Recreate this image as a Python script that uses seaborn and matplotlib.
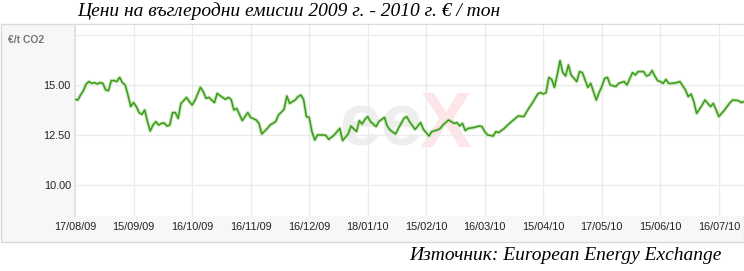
import numpy as np
import pandas as pd
import matplotlib
matplotlib.use("Agg")
import matplotlib.pyplot as plt
from matplotlib.patches import Rectangle
import seaborn as sns

# ---- data (trading-day index, price EUR/t CO2) ----
day_idx = [0, 1, 2, 3, 4, 5, 6, 7, 8, 9, 10, 11, 12, 13, 14, 15, 16, 17, 18, 19,
           20, 21, 22, 23, 24, 25, 26, 27, 28, 29, 30, 31, 32, 33, 34, 35, 36, 37, 38, 39,
           40, 41, 42, 43, 45, 46, 47, 48, 50, 51, 52, 54, 55, 56, 57, 58, 60, 62, 63, 65,
           66, 67, 69, 70, 72, 73, 75, 76, 77, 79, 80, 81, 82, 83, 84, 85, 86, 87, 89, 90,
           91, 93, 95, 96, 98, 99, 101, 102, 103, 104, 105, 106, 108, 109, 111, 112, 113, 115, 116, 118,
           119, 120, 122, 124, 125, 127, 128, 130, 131, 132, 134, 136, 137, 138, 139, 140, 141, 143, 145, 146,
           147, 148, 150, 151, 152, 154, 156, 158, 159, 161, 163, 164, 166, 167, 168, 169, 170, 171, 172, 173,
           174, 175, 176, 177, 178, 180, 181, 182, 184, 185, 187, 188, 189, 190, 191, 192, 194, 195, 197, 198,
           200, 201, 202, 204, 205, 206, 207, 208, 209, 210, 211, 212, 213, 214, 216, 217, 219, 220, 221, 222,
           223, 225, 226, 227, 228, 229, 231, 233, 235, 236, 238, 239, 240]
price = [14.28, 14.25, 14.50, 14.72, 15.05, 15.17, 15.08, 15.12, 15.05, 15.12, 15.08, 14.75, 14.72, 15.22, 15.22, 15.17, 15.38, 15.12, 15.00, 14.50,
         13.92, 14.12, 13.92, 13.62, 13.53, 13.75, 13.17, 12.70, 13.00, 13.17, 13.00, 13.08, 13.10, 12.95, 13.00, 13.62, 13.62, 13.33, 14.08, 14.22,
         14.38, 14.17, 14.00, 14.22, 14.88, 14.67, 14.33, 14.38, 14.12, 14.58, 14.47, 14.28, 14.38, 14.28, 13.75, 13.83, 13.22, 13.62, 13.38, 13.25,
         13.08, 12.55, 12.83, 13.00, 13.17, 13.50, 13.78, 14.45, 14.08, 14.25, 14.42, 14.50, 14.28, 13.42, 13.38, 12.67, 12.25, 12.50, 12.50, 12.48,
         12.28, 12.50, 12.83, 12.22, 12.55, 12.95, 12.67, 13.22, 13.05, 13.28, 13.42, 13.17, 12.92, 13.17, 13.38, 12.95, 12.75, 12.55, 12.83, 13.33,
         13.42, 13.17, 12.78, 13.12, 12.78, 12.45, 12.67, 12.75, 12.83, 13.00, 13.25, 13.08, 13.12, 12.95, 13.08, 12.72, 12.83, 12.87, 12.95, 12.92,
         12.67, 12.50, 12.45, 12.67, 12.62, 12.83, 13.10, 13.33, 13.45, 13.42, 13.88, 14.08, 14.55, 14.62, 14.55, 14.62, 15.38, 15.28, 14.88, 15.50,
         16.22, 15.62, 15.45, 16.00, 15.50, 15.17, 15.67, 15.62, 14.88, 15.08, 14.25, 14.62, 14.92, 15.33, 15.38, 15.00, 14.92, 15.08, 15.17, 15.00,
         15.62, 15.50, 15.67, 15.67, 15.45, 15.50, 15.72, 15.45, 15.22, 15.17, 15.08, 15.28, 15.08, 15.08, 15.12, 15.17, 14.75, 14.42, 14.55, 14.17,
         13.58, 14.00, 14.25, 14.08, 13.92, 14.08, 13.42, 13.75, 14.12, 14.25, 14.22, 14.12, 14.17]

tick_pos = [0, 21, 42, 63, 84, 105, 126, 147, 168, 189, 210, 231]
tick_labels = ["17/08/09", "15/09/09", "16/10/09", "16/11/09", "16/12/09", "18/01/10",
               "15/02/10", "16/03/10", "15/04/10", "17/05/10", "15/06/10", "16/07/10"]
y_ticks = [10.0, 12.5, 15.0, 17.5]

title = "Цени на въглеродни емисии 2009 г. - 2010 г. € / тон"
source = "Източник: European Energy Exchange"
unit = "€/t CO2"

df = pd.DataFrame({"day": day_idx, "price": price})

sns.set_theme(style="white")
plt.rcParams["font.family"] = ["Liberation Sans", "DejaVu Sans"]

W, H = 744, 271
fig = plt.figure(figsize=(W / 100, H / 100), dpi=100)

# grey chart panel
fig.patches.append(Rectangle((0.5 / W, 1 - 242 / H), (W - 1) / W, (242 - 24) / H,
                             transform=fig.transFigure, facecolor="#f7f7f7",
                             edgecolor="#d9d9d9", linewidth=1.0, zorder=0))

ax = fig.add_axes([75 / W, 1 - 216 / H, (W - 75) / W, (216 - 25) / H])
ax.set_facecolor("white")
ax.set_zorder(1)

# watermark
ax.text(0.52, 0.47, "ee", transform=ax.transAxes, fontsize=54, fontweight="bold",
        color="#eeeeee", ha="right", va="center", zorder=0, family="Liberation Sans")
ax.text(0.515, 0.47, "X", transform=ax.transAxes, fontsize=56, fontweight="bold",
        color="#fce6ea", ha="left", va="center", zorder=0, family="Liberation Sans")

# light companion line (halo) and main line
sns.lineplot(data=df, x="day", y="price", ax=ax, color="#b9e2a6", linewidth=2.6,
             alpha=0.8, zorder=2, legend=False)
sns.lineplot(data=df, x="day", y="price", ax=ax, color="#3b9a1c", linewidth=1.1,
             zorder=3, legend=False)

ax.set_xlim(0, 240)
ax.set_ylim(8.45, 18.0)
ax.set_xticks(tick_pos)
ax.set_xticklabels(tick_labels)
ax.set_yticks(y_ticks)
ax.set_yticklabels([f"{v:.2f}" if v < 17 else "" for v in y_ticks])
ax.grid(True, color="#ebebeb", linewidth=1.0)
ax.set_axisbelow(True)
ax.set_xlabel("")
ax.set_ylabel("")
for s in ["top", "right", "bottom"]:
    ax.spines[s].set_visible(False)
ax.spines["left"].set_color("#e0e0e0")
ax.tick_params(axis="both", length=0, labelsize=7.8, colors="#222222")
ax.tick_params(axis="x", pad=4)
ax.tick_params(axis="y", pad=3)

fig.text(8 / W, 1 - 40 / H, unit, fontsize=7.5, fontweight="bold", color="#777777",
         ha="left", va="center")
fig.text(77 / W, 1 - 11 / H, title, fontsize=14, style="italic",
         family=["Liberation Serif", "DejaVu Serif"], color="black", ha="left", va="center")
fig.text(722 / W, 1 - 256 / H, source, fontsize=14, style="italic",
         family=["Liberation Serif", "DejaVu Serif"], color="black", ha="right", va="center")

fig.savefig("out.png", dpi=100)
